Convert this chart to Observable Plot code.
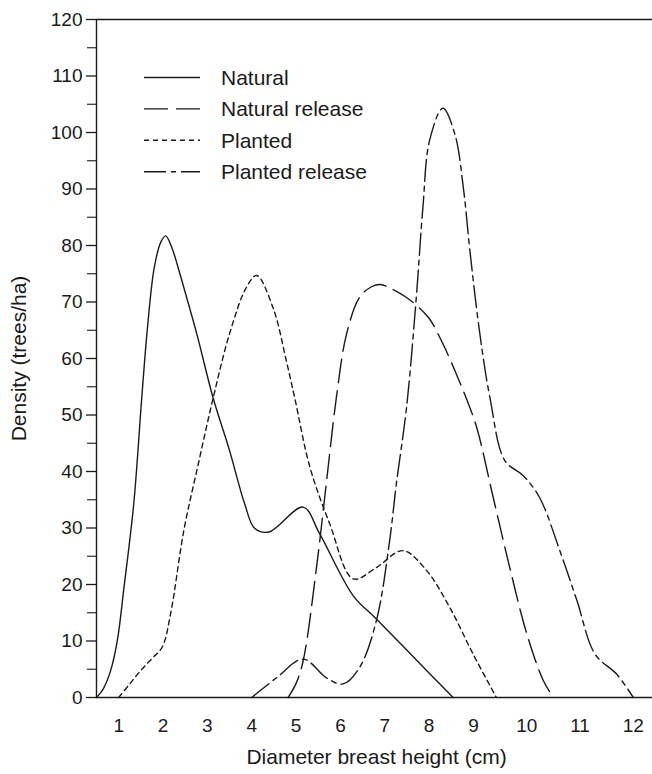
<!DOCTYPE html>
<html><head><meta charset="utf-8">
<script src="https://cdn.jsdelivr.net/npm/d3@7"></script>
<script src="https://cdn.jsdelivr.net/npm/@observablehq/plot@0.6"></script>
<style>body{margin:0;background:#fff}#chart{width:652px;height:774px}</style>
</head><body><div id="chart"></div>
<script>
// ---- data ----
const dbhTicks = [1,2,3,4,5,6,7,8,9,10,11,12];
const densityTicks = [0,10,20,30,40,50,60,70,80,90,100,110,120];
const densityMinorTicks = [5,15,25,35,45,55,65,75,85,95,105,115];
const seriesNames = ["Natural","Natural release","Planted","Planted release"];

const naturalDbh     = [0.5,0.65,0.82,0.97,1.12,1.34,1.52,1.65,1.8,1.95,2.06,2.2,2.38,2.55,2.76,3.13,3.5,3.84,4.07,4.39,5.16,5.53,6.29,6.81,8.09,8.54];
const naturalDensity = [0,1.5,4.8,10.1,19.5,34.3,53,65.5,76,80.6,81.7,79.6,75,70.3,64.4,53,43.7,34.3,29.9,29.3,33.7,29,18,13.9,3.6,0];

const natRelDbh      = [4.82,5.0,5.16,5.46,5.68,5.91,6.14,6.43,6.7,6.9,7.11,7.49,7.98,8.31,8.61,8.84,9.06,9.37,9.68,10.0,10.31,10.5];
const natRelDensity  = [0,2.5,6.5,23,37.8,53.2,64.4,70.8,72.7,73.1,72.5,70.8,67.3,62.6,57.3,52.9,47.8,35.4,23,11.3,3,0];

const plantedDbh     = [1.0,1.25,1.5,1.75,1.98,2.17,2.47,2.8,3.13,3.5,3.88,4.11,4.48,4.78,4.97,5.31,5.76,6.29,6.81,7.41,7.94,8.46,8.99,9.43];
const plantedDensity = [0,2.4,4.8,6.9,8.9,14.8,29.6,41.5,53,64.4,72.6,74.7,69,59.6,53,40.8,30.7,21,23,26,22.5,16,7.7,0];

const plRelDbh       = [4.0,4.56,5.16,5.68,6.06,6.43,6.81,7.11,7.26,7.49,7.71,7.86,8.01,8.31,8.58,8.77,8.92,9.12,9.31,9.59,9.93,10.24,10.62,10.94,11.28,11.69,12.0];
const plRelDensity   = [0,3.5,6.8,3.5,2.4,5.3,13.6,27.8,37.8,51.3,70.8,86.8,98.6,104.3,99.7,90.3,79,64.3,53,41.9,39.3,35.4,26,17.2,7.7,4.1,0];

// ---- styles ----
const ink = "#1a1a1a";
const dash = {"Natural": null, "Natural release": "24,8", "Planted": "5,4", "Planted release": "22,5,5,5"};
const font = "'Liberation Sans', Arial, Helvetica, sans-serif";

const rows = (name, xs, ys) => xs.map((x, i) => ({series: name, dbh: x, density: ys[i]}));
const tables = [
  rows(seriesNames[0], naturalDbh, naturalDensity),
  rows(seriesNames[1], natRelDbh, natRelDensity),
  rows(seriesNames[2], plantedDbh, plantedDensity),
  rows(seriesNames[3], plRelDbh, plRelDensity)
];

const chart = Plot.plot({
  width: 652, height: 774,
  marginLeft: 96, marginRight: 0, marginTop: 19, marginBottom: 77,
  style: {fontFamily: font, fontSize: "19px", color: ink, background: "white", overflow: "visible"},
  x: {type: "linear", domain: [0.5, 9, 12.36], range: [96, 473, 652]},
  y: {domain: [0, 120]},
  marks: [
    Plot.ruleY([0, 120], {stroke: ink, strokeWidth: 1.4}),
    Plot.ruleX([0.5], {stroke: ink, strokeWidth: 1.4}),
    Plot.axisY({ticks: densityTicks, tickSize: 10, tickPadding: 4, label: null, strokeWidth: 1.3, fontSize: 19}),
    Plot.axisY({ticks: densityMinorTicks, tickSize: 9, tickFormat: () => "", label: null, strokeWidth: 1.1}),
    Plot.axisX({ticks: dbhTicks, tickSize: 0, tickPadding: 20.5, label: null, fontSize: 19}),
    ...tables.map(t => Plot.line(t, {
      x: "dbh", y: "density", curve: "catmull-rom",
      stroke: ink, strokeWidth: 1.4, strokeDasharray: dash[t[0].series]
    })),
    Plot.text(["Diameter breast height (cm)"], {frameAnchor: "bottom", textAnchor: "middle", dy: 66, dx: 2, fontSize: 21, fill: ink}),
    Plot.text(["Density (trees/ha)"], {frameAnchor: "left", textAnchor: "middle", rotate: -90, dx: -77, fontSize: 21, fill: ink})
  ]
});

// legend (layout only)
const svg = d3.select(chart);
const lg = svg.append("g").attr("transform", "translate(144,77.5)");
seriesNames.forEach((name, i) => {
  const y = i * 31.4;
  lg.append("line").attr("x1", 0).attr("x2", 56).attr("y1", y).attr("y2", y)
    .attr("stroke", ink).attr("stroke-width", 1.4)
    .attr("stroke-dasharray", dash[name] || null);
  lg.append("text").attr("x", 77).attr("y", y).attr("dy", "0.35em")
    .attr("text-anchor", "start")
    .attr("font-family", font).attr("font-size", 21).attr("fill", ink).text(name);
});

document.getElementById("chart").appendChild(chart);
</script>
</body></html>
